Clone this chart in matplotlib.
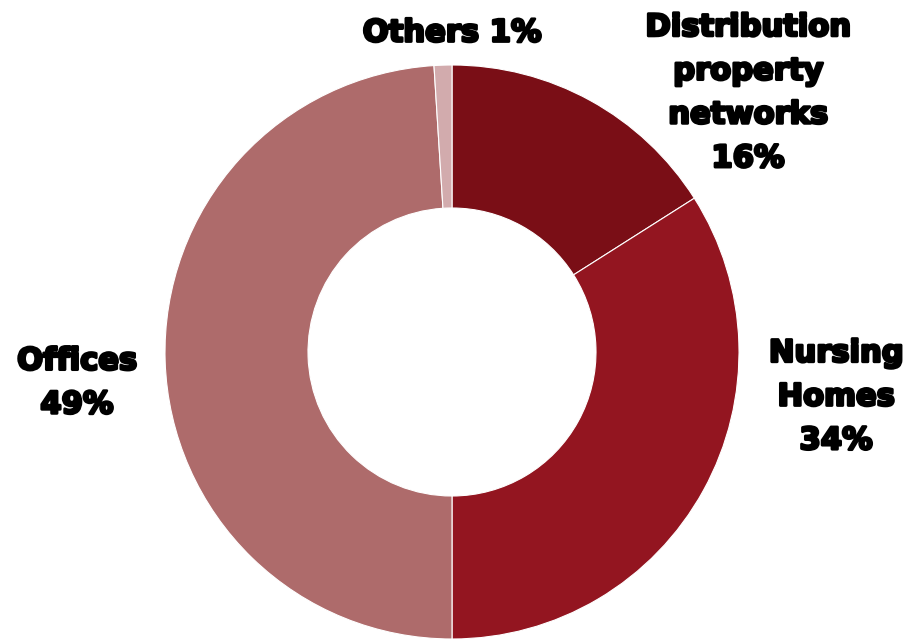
import matplotlib
matplotlib.use("Agg")
import matplotlib.pyplot as plt
import matplotlib.patheffects as pe

categories = ["Distribution\nproperty\nnetworks", "Nursing\nHomes", "Offices", "Others"]
values = [16, 34, 49, 1]
colors = ["#7A0E16", "#931520", "#AE6B6B", "#D2ABAD"]

# label anchor positions in pixel coordinates (x, y from top)
label_pos = [(748, 93), (836, 397), (77, 383), (452, 33)]

W, H = 906, 639
fig = plt.figure(figsize=(W / 100, H / 100), dpi=100)
ax = fig.add_axes([0, 0, 1, 1])

cx, cy, r = 452, H - 352, 287
ax.pie(values, colors=colors, startangle=90, counterclock=False,
       center=(cx, cy), radius=r, frame=True,
       wedgeprops=dict(width=143, edgecolor="white", linewidth=0.8))
ax.set_xlim(0, W)
ax.set_ylim(0, H)
ax.set_aspect("equal")
ax.axis("off")

for name, v, (x, y) in zip(categories, values, label_pos):
    if name == "Others":
        txt = f"{name} {v}%"
    else:
        txt = f"{name}\n{v}%"
    ax.text(x, H - y, txt, ha="center", va="center", fontsize=22,
            fontweight="bold", family="DejaVu Sans", linespacing=1.64,
            color="black",
            path_effects=[pe.withStroke(linewidth=2.0, foreground="black")])

fig.savefig("out.png", dpi=100)
